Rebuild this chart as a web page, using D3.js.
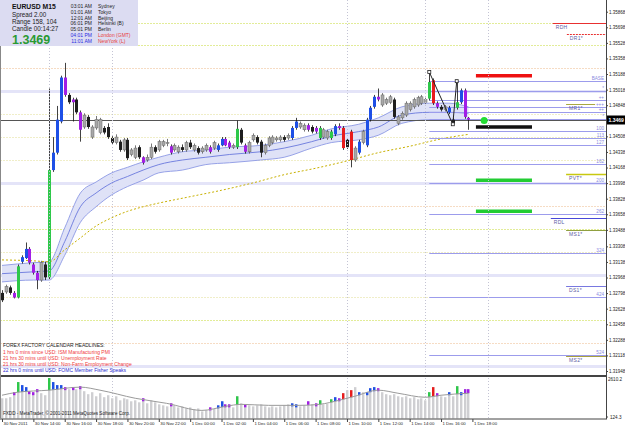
<!DOCTYPE html>
<html lang="en">
<head>
    <meta charset="UTF-8">
    <title>EURUSD M15</title>
    <script src="https://d3js.org/d3.v7.min.js"></script>
    <style>
        body {margin: 0; background: #fff;}
        svg {display: block; font-family: "Liberation Sans", Arial, sans-serif;}
    </style>
</head>
<body>
<script>
    const width = 625;
    const height = 429;

    // candles, 30 Nov 12:00 .. 1 Dec 17:45 (M15)
    const opens = [
        1.3280,1.3281,1.3286,1.3280,1.3275,1.3314,1.3318,1.3328,1.3311,1.3302,
        1.3294,1.3311,1.3297,1.3414,1.3433,1.3467,1.3515,1.3496,1.3491,1.3491,
        1.3477,1.3461,1.3472,1.3450,1.3460,1.3455,1.3460,1.3461,1.3449,1.3444,
        1.3445,1.3436,1.3447,1.3431,1.3428,1.3439,1.3428,1.3425,1.3428,1.3439,
        1.3436,1.3441,1.3443,1.3440,1.3436,1.3434,1.3439,1.3436,1.3444,1.3436,
        1.3438,1.3434,1.3436,1.3439,1.3438,1.3436,1.3441,1.3448,1.3444,1.3439,
        1.3439,1.3458,1.3441,1.3434,1.3447,1.3450,1.3445,1.3433,1.3441,1.3444,
        1.3447,1.3447,1.3450,1.3449,1.3449,1.3460,1.3461,1.3458,1.3463,1.3461,
        1.3460,1.3449,1.3450,1.3449,1.3449,1.3453,1.3462,1.3460,1.3447,1.3456,
        1.3425,1.3433,1.3444,1.3441,1.3469,1.3483,1.3494,1.3485,1.3487,1.3488,
        1.3491,1.3465,1.3471,1.3474,1.3480,1.3483,1.3485,1.3487,1.3488,1.3492,
        1.3512,1.3487,1.3483,1.3480,1.3477,1.3469,1.3482,1.3488,1.3501,1.3471];
    const highs = [
        1.3283,1.3289,1.3288,1.3282,1.3311,1.3321,1.3335,1.3330,1.3313,1.3304,
        1.3315,1.3314,1.3503,1.3450,1.3484,1.3517,1.3531,1.3498,1.3493,1.3493,
        1.3479,1.3476,1.3474,1.3463,1.3473,1.3471,1.3462,1.3465,1.3451,1.3453,
        1.3447,1.3449,1.3449,1.3438,1.3441,1.3441,1.3429,1.3431,1.3443,1.3441,
        1.3447,1.3447,1.3448,1.3442,1.3443,1.3441,1.3442,1.3446,1.3447,1.3443,
        1.3440,1.3440,1.3443,1.3441,1.3446,1.3443,1.3450,1.3450,1.3446,1.3443,
        1.3468,1.3460,1.3443,1.3446,1.3454,1.3452,1.3447,1.3443,1.3451,1.3452,
        1.3451,1.3452,1.3452,1.3454,1.3462,1.3471,1.3467,1.3465,1.3465,1.3463,
        1.3462,1.3462,1.3460,1.3458,1.3458,1.3464,1.3465,1.3462,1.3449,1.3458,
        1.3440,1.3447,1.3458,1.3471,1.3484,1.3496,1.3503,1.3498,1.3493,1.3496,
        1.3493,1.3474,1.3478,1.3489,1.3489,1.3493,1.3495,1.3496,1.3493,1.3521,
        1.3514,1.3489,1.3485,1.3485,1.3484,1.3471,1.3511,1.3503,1.3503,1.3472];
    const lows = [
        1.3270,1.3279,1.3278,1.3274,1.3274,1.3312,1.3317,1.3311,1.3300,1.3284,
        1.3292,1.3294,1.3295,1.3412,1.3431,1.3465,1.3494,1.3486,1.3467,1.3475,
        1.3445,1.3459,1.3459,1.3448,1.3458,1.3453,1.3453,1.3448,1.3442,1.3442,
        1.3434,1.3434,1.3425,1.3429,1.3426,1.3426,1.3420,1.3423,1.3426,1.3432,
        1.3434,1.3439,1.3440,1.3431,1.3434,1.3432,1.3434,1.3434,1.3437,1.3434,
        1.3431,1.3432,1.3434,1.3432,1.3436,1.3434,1.3440,1.3440,1.3437,1.3437,
        1.3437,1.3442,1.3432,1.3432,1.3445,1.3442,1.3428,1.3431,1.3439,1.3442,
        1.3445,1.3445,1.3445,1.3447,1.3447,1.3458,1.3459,1.3456,1.3456,1.3454,
        1.3454,1.3447,1.3448,1.3447,1.3447,1.3451,1.3458,1.3436,1.3437,1.3417,
        1.3423,1.3431,1.3442,1.3439,1.3467,1.3481,1.3489,1.3483,1.3485,1.3486,
        1.3470,1.3463,1.3469,1.3472,1.3478,1.3481,1.3483,1.3485,1.3486,1.3490,
        1.3485,1.3481,1.3478,1.3478,1.3475,1.3464,1.3480,1.3486,1.3470,1.3458];
    const closes = [
        1.3272,1.3287,1.3280,1.3275,1.3309,1.3319,1.3328,1.3313,1.3302,1.3294,
        1.3313,1.3297,1.3414,1.3433,1.3469,1.3515,1.3496,1.3488,1.3488,1.3477,
        1.3458,1.3474,1.3461,1.3461,1.3469,1.3469,1.3455,1.3450,1.3444,1.3450,
        1.3436,1.3447,1.3427,1.3436,1.3438,1.3428,1.3422,1.3428,1.3439,1.3434,
        1.3445,1.3445,1.3444,1.3433,1.3441,1.3439,1.3436,1.3444,1.3439,1.3441,
        1.3433,1.3438,1.3441,1.3434,1.3444,1.3441,1.3448,1.3441,1.3439,1.3441,
        1.3459,1.3444,1.3434,1.3444,1.3452,1.3444,1.3433,1.3441,1.3449,1.3450,
        1.3449,1.3450,1.3447,1.3452,1.3460,1.3467,1.3465,1.3463,1.3458,1.3456,
        1.3456,1.3460,1.3458,1.3456,1.3456,1.3462,1.3460,1.3438,1.3439,1.3425,
        1.3438,1.3445,1.3456,1.3469,1.3482,1.3494,1.3491,1.3496,1.3491,1.3494,
        1.3472,1.3472,1.3476,1.3487,1.3487,1.3491,1.3493,1.3494,1.3491,1.3510,
        1.3487,1.3483,1.3480,1.3483,1.3482,1.3465,1.3488,1.3501,1.3472,1.3469];
    // G big up, b up, g small up, r big down, m down, k small down
    const candleKinds = (
        "kgkmGbbmmm" + "gkGbbbmkmk" + "mgkgggkkkg" + "kgkggkmggk" +
        "gggmggkgkg" + "kggmgbbmmg" + "Gkmggkkggg" + "ggkgbbggmk" +
        "mGggGbmrkr" + "gbgbbbmggg" + "kggggggggG" + "rmkgbkGbmm").split("");

    const volumes = [
        1336,1336,1400,1700,2306,2124,2003,1760,1700,1880,
        1640,1518,2548,2306,2124,2124,2003,1880,2003,1880,
        2060,1760,1580,1700,1455,1640,1400,1518,1336,1455,
        1215,1336,1275,1155,1215,1094,1336,1033,1215,1094,
        973,912,851,1033,912,790,851,730,790,670,
        730,550,620,790,700,912,1155,973,973,790,
        1455,1033,973,912,851,912,973,851,790,851,
        790,851,912,973,1033,973,851,912,1155,973,
        1033,1215,973,1000,1275,1400,1336,1640,1821,1821,
        2003,1700,1700,1700,1940,2003,1940,1700,1580,1518,
        1580,1455,1400,1455,1336,1400,1275,1336,1215,1700,
        2003,1640,1455,1400,1700,1455,2060,1700,1880,1880];
    const volMaIdx = [0, 4, 12, 20, 25, 34, 42, 51, 57, 61, 68, 76, 81, 86, 90, 96, 101, 108, 112, 119];
    const volMa    = [1518, 1700, 1821, 2003, 1821, 1336, 1033, 609, 851, 973, 912, 912, 973, 1215, 1457, 1821, 1639, 1397, 1518, 1639];

    // moving average envelope and slow average
    const bandIdx   = [0, 8, 12, 16, 20, 24, 28, 32, 36, 40, 46, 52, 58, 66, 72, 79, 84, 91, 96, 102, 109, 114, 119];
    const bandUpper = [1.3310,1.3313,1.3314,1.3351,1.3389,1.3401,1.3411,1.3417,1.3423,1.3428,1.3434,1.3436,1.3439,1.3441,1.3445,1.3452,1.3459,1.3464,1.3471,1.3483,1.3487,1.3487,1.3483];
    const bandMid   = [1.3301,1.3303,1.3304,1.3336,1.3374,1.3389,1.3400,1.3407,1.3414,1.3420,1.3425,1.3428,1.3431,1.3434,1.3438,1.3445,1.3451,1.3456,1.3461,1.3474,1.3477,1.3477,1.3476];
    const bandLower = [1.3292,1.3294,1.3294,1.3321,1.3357,1.3374,1.3387,1.3396,1.3403,1.3411,1.3414,1.3420,1.3422,1.3425,1.3428,1.3438,1.3444,1.3447,1.3452,1.3465,1.3469,1.3469,1.3469];
    const slowIdx = [0, 8, 12, 16, 20, 24, 28, 32, 36, 40, 48, 56, 64, 72, 80, 88, 96, 104, 112, 119];
    const slowMa  = [1.3316,1.3315,1.3314,1.3327,1.3340,1.3353,1.3362,1.3369,1.3374,1.3378,1.3385,1.3392,1.3400,1.3409,1.3416,1.3424,1.3433,1.3440,1.3448,1.3453];

    // round levels every 25 pips
    const roundLevels = [1.3575,1.3550,1.3525,1.3500,1.3475,1.3450,1.3425,1.3400,1.3375,1.3350,1.3325,1.3300,1.3275,1.3250,1.3225,1.3200];
    const roundKinds  = ["h","h","p","w","q","q","q","w","p","h","q","w","q","h","p","w"];
    const sessionIdx  = [12, 28, 88, 108, 124];

    // projection lines from the last swing
    const fibLabels = ["BASE","*","++","+++","++","*","100","113","127","162","200","262","324","424","524"];
    const fibPrices = [1.3511,1.3500,1.3491,1.3483,1.3477,1.3470,1.3457,1.3449,1.3441,1.3421,1.3400,1.3366,1.3323,1.3275,1.3212];
    const fibFrom = 109;

    const pivotNames  = ["RDH","DR1*","MR1*","PVT*","RDL","MS1*","DS1*","MS2*"];
    const pivotPrices = [1.3575,1.3563,1.3486,1.3410,1.3362,1.3349,1.3288,1.3211];
    const pivotFrom   = [140.5,144.1,143.9,143.9,140,143.9,143.9,143.9];
    const pivotTo     = [154.1,154.1,151.3,154.1,154.1,154.1,154.1,154.1];
    const pivotColors = ["#e83030","#e83030","#a8a840","#c8c810","#4848d8","#90a040","#7878e0","#a8a040"];

    const targetPrices = [1.3517, 1.3461, 1.3403, 1.3369];
    const targetColors = ["#ee1111", "#111111", "#22cc33", "#22cc33"];
    const targetFrom = 120.9, targetTo = 135.2;
    const signalIdx = 123, signalPrice = 1.3468;

    const zigIdx = [109, 115, 116];
    const zigPrice = [1.3521, 1.3464, 1.3511];

    const lastPrice = 1.3469;

    // the tick under the price box is hidden in the reference
    const yTickValues = [1.35868,1.35698,1.35528,1.35358,1.35188,1.35018,1.34848,1.34508,1.34338,1.34168,1.33998,
        1.33828,1.33658,1.33488,1.33308,1.33138,1.32968,1.32798,1.32628,1.32458,1.32288,1.32118,1.31948];
    const timeIdx = [0, 8, 16, 24, 32, 40, 48, 56, 64, 72, 80, 88, 96, 104, 112, 120];
    const timeLabels = ["30 Nov 2011","30 Nov 14:00","30 Nov 16:00","30 Nov 18:00","30 Nov 20:00","30 Nov 22:00",
        "1 Dec 00:00","1 Dec 02:00","1 Dec 04:00","1 Dec 06:00","1 Dec 08:00","1 Dec 10:00",
        "1 Dec 12:00","1 Dec 14:00","1 Dec 16:00","1 Dec 18:00"];
    const volMaxLabel = "2610.2", volMinLabel = "124.3";

    const infoLeft = ["Spread  2.00", "Range  158, 104", "Candle  00:14:27"];
    const clockTimes  = ["03:01 AM","01:01 AM","12:01 AM","06:01 PM","05:01 PM","04:01 PM","11:01 AM"];
    const clockCities = ["Sydney","Tokyo","Beijing","Helsinki (B)","Berlin","London (GMT)","NewYork (L)"];
    const news = ["1 hrs 0 mins since USD: ISM Manufacturing PMI",
        "21 hrs 30 mins until USD: Unemployment Rate",
        "21 hrs 30 mins until USD: Non-Farm Employment Change",
        "22 hrs 0 mins until USD: FOMC Member Fisher Speaks"];
    const newsColors = ["#f03c3c","#f03c3c","#f03c3c","#2c2cd0"];

    const kindColor = {G: "#2ec84a", b: "#1e50e6", g: "#a8a8a8", r: "#e81c1c", m: "#a21ee6", k: "#1e1e1e"};
    const roundStyle = {
        w: {c: "#e4e4f8", w: 3, d: null},
        h: {c: "#e2ec98", w: 1, d: "2,1"},
        q: {c: "#f0eec8", w: 1, d: "2,1"},
        p: {c: "#f6dcc4", w: 1, d: "2,1"}
    };

    const plotRight = 606;
    const mainBottom = 375;
    const volTop = 377, volBottom = 418.5;

    const svg = d3.select("body").append("svg")
            .attr("width", width).attr("height", height);

    const x = d3.scaleLinear().domain([0, 120]).range([2, 472.4]);
    const y = d3.scaleLinear().domain([1.31948, 1.35868]).range([371, 11.7]);
    const yVol = d3.scaleLinear().domain([124.3, 2610.2]).range([volBottom, volTop]);
    const maAt = d3.scaleLinear().domain(volMaIdx).range(volMa);

    svg.append("defs").append("clipPath").attr("id", "mainClip")
            .append("rect").attr("width", plotRight).attr("height", mainBottom);

    const main = svg.append("g").attr("clip-path", "url(#mainClip)");

    drawGrid();
    drawBand();
    drawLevels();
    drawCandles();
    drawOverlay();
    drawVolume();
    drawFrame();
    drawAxes();
    drawInfo();

    function drawGrid() {
        main.selectAll("line.round")
                .data(roundLevels)
                .join("line").attr("class", "round")
                .attr("x1", 0).attr("x2", plotRight)
                .attr("y1", d => Math.round(y(d)) + 0.5).attr("y2", d => Math.round(y(d)) + 0.5)
                .style("stroke", (d, i) => roundStyle[roundKinds[i]].c)
                .style("stroke-width", (d, i) => roundStyle[roundKinds[i]].w)
                .style("stroke-dasharray", (d, i) => roundStyle[roundKinds[i]].d);

        svg.selectAll("line.session")
                .data(sessionIdx)
                .join("line").attr("class", "session")
                .attr("x1", d => Math.round(x(d)) + 0.5).attr("x2", d => Math.round(x(d)) + 0.5)
                .attr("y1", 0).attr("y2", volBottom)
                .style("stroke", "#c4c4d4")
                .style("stroke-dasharray", "1,2");
    }

    function drawBand() {
        const pts = bandIdx.map((d, i) => ({i: d, up: bandUpper[i], mid: bandMid[i], lo: bandLower[i]}));
        const area = d3.area().curve(d3.curveMonotoneX)
                .x(d => x(d.i)).y0(d => y(d.lo)).y1(d => y(d.up));
        main.append("path").datum(pts).attr("d", area)
                .style("fill", "#dfe2f7");
        ["up", "mid", "lo"].forEach(k => {
            main.append("path").datum(pts)
                    .attr("d", d3.line().curve(d3.curveMonotoneX).x(d => x(d.i)).y(d => y(d[k])))
                    .style("fill", "none")
                    .style("stroke", k === "mid" ? "#6a78dc" : "#8c98e4")
                    .style("stroke-width", 0.9);
        });

        const slow = slowIdx.map((d, i) => ({i: d, v: slowMa[i]}));
        main.append("path").datum(slow)
                .attr("d", d3.line().curve(d3.curveMonotoneX).x(d => x(d.i)).y(d => y(d.v)))
                .style("fill", "none")
                .style("stroke", "#c8b000")
                .style("stroke-width", 1)
                .style("stroke-dasharray", "2,2");
    }

    function drawLevels() {
        // current price line
        main.append("line")
                .attr("x1", 0).attr("x2", plotRight)
                .attr("y1", Math.round(y(lastPrice)) + 0.5).attr("y2", Math.round(y(lastPrice)) + 0.5)
                .style("stroke", "#555");

        const fib = main.selectAll("g.fib")
                .data(fibPrices)
                .join("g").attr("class", "fib");
        fib.append("line")
                .attr("x1", x(fibFrom)).attr("x2", plotRight)
                .attr("y1", d => Math.round(y(d)) + 0.5).attr("y2", d => Math.round(y(d)) + 0.5)
                .style("stroke", "#9c9cec");
        fib.append("text")
                .attr("x", plotRight - 2).attr("y", d => Math.round(y(d)) - 1)
                .attr("text-anchor", "end")
                .style("font-size", "4.6px").style("fill", "#8a8ae0")
                .text((d, i) => fibLabels[i]);

        const piv = main.selectAll("g.pivot")
                .data(pivotPrices)
                .join("g").attr("class", "pivot");
        piv.append("line")
                .attr("x1", (d, i) => x(pivotFrom[i])).attr("x2", (d, i) => x(pivotTo[i]))
                .attr("y1", d => Math.round(y(d)) + 0.5).attr("y2", d => Math.round(y(d)) + 0.5)
                .style("stroke", (d, i) => pivotColors[i])
                .style("stroke-width", (d, i) => pivotNames[i] === "PVT*" ? 1.6 : 1)
                .style("stroke-dasharray", (d, i) => pivotNames[i] === "DR1*" ? "2,1" : null);
        piv.append("text")
                .attr("x", (d, i) => x(pivotFrom[i]) + 3).attr("y", d => Math.round(y(d)) + 6)
                .style("font-size", "5px").style("fill", "#5c5ca4")
                .style("letter-spacing", "0.3px")
                .text((d, i) => pivotNames[i]);
    }

    function drawCandles() {
        const candles = opens.map((o, i) => ({i: i, o: o, h: highs[i], l: lows[i], c: closes[i], k: candleKinds[i]}));
        const g = main.append("g").attr("class", "candles");

        g.selectAll("line")
                .data(candles)
                .join("line")
                .attr("x1", d => Math.round(x(d.i)) + 0.5).attr("x2", d => Math.round(x(d.i)) + 0.5)
                .attr("y1", d => y(d.h)).attr("y2", d => y(d.l))
                .style("stroke", d => d.k === "g" ? "#555" : "#111")
                .style("stroke-width", 0.8);

        g.selectAll("rect")
                .data(candles)
                .join("rect")
                .attr("x", d => Math.round(x(d.i)) - 1)
                .attr("width", 3)
                .attr("y", d => y(Math.max(d.o, d.c)))
                .attr("height", d => Math.max(1, Math.abs(y(d.o) - y(d.c))))
                .style("fill", d => kindColor[d.k])
                .style("stroke", d => d.k === "g" ? "#6a6a6a" : "none")
                .style("stroke-width", 0.5);
    }

    function drawOverlay() {
        const zz = zigIdx.map((d, i) => [x(d), y(zigPrice[i])]);
        main.append("path").datum(zz)
                .attr("d", d3.line())
                .style("fill", "none").style("stroke", "#222").style("stroke-width", 1);
        main.selectAll("rect.zz")
                .data(zz)
                .join("rect").attr("class", "zz")
                .attr("x", d => d[0] - 1.5).attr("y", d => d[1] - 1.5)
                .attr("width", 3).attr("height", 3)
                .style("fill", "#fff").style("stroke", "#222").style("stroke-width", 0.8);

        main.selectAll("line.target")
                .data(targetPrices)
                .join("line").attr("class", "target")
                .attr("x1", x(targetFrom)).attr("x2", x(targetTo))
                .attr("y1", d => y(d)).attr("y2", d => y(d))
                .style("stroke", (d, i) => targetColors[i])
                .style("stroke-width", 3.5);

        main.append("circle")
                .attr("cx", x(signalIdx)).attr("cy", y(signalPrice)).attr("r", 3.5)
                .style("fill", "#22dd33");
    }

    function drawVolume() {
        const g = svg.append("g").attr("class", "volume");
        const bars = volumes.map((v, i) => ({i: i, v: v, ma: maAt(i), k: candleKinds[i]}));
        g.selectAll("rect.vbar")
                .data(bars)
                .join("rect").attr("class", "vbar")
                .attr("x", d => Math.round(x(d.i)) - 1).attr("width", 2.4)
                .attr("y", d => yVol(d.v)).attr("height", d => volBottom - yVol(d.v))
                .style("fill", "#cfcfd2");
        g.selectAll("rect.vtop")
                .data(bars.filter(d => "Gbrm".includes(d.k)))
                .join("rect").attr("class", "vtop")
                .attr("x", d => Math.round(x(d.i)) - 1).attr("width", 2.4)
                .attr("y", d => yVol(d.v))
                .attr("height", d => Math.max(3, yVol(d.ma) - yVol(d.v)))
                .style("fill", d => kindColor[d.k]);
        g.append("path").datum(volMaIdx.map((d, i) => [x(d), yVol(volMa[i])]))
                .attr("d", d3.line().curve(d3.curveMonotoneX))
                .style("fill", "none").style("stroke", "#9a9a9a").style("stroke-width", 1);

        g.append("text").attr("x", 3).attr("y", 415)
                .style("font-size", "4.6px").style("fill", "#222")
                .text("FXDD - MetaTrader, \u00a9 2001-2011 MetaQuotes Software Corp.");
    }

    function drawFrame() {
        const f = svg.append("g").style("stroke", "#444").style("fill", "none");
        f.append("line").attr("x1", plotRight + 0.5).attr("x2", plotRight + 0.5).attr("y1", 0).attr("y2", volBottom + 1);
        f.append("line").attr("x1", 0).attr("x2", plotRight).attr("y1", mainBottom + 0.5).attr("y2", mainBottom + 0.5);
        f.append("line").attr("x1", 0).attr("x2", plotRight).attr("y1", volTop - 0.5).attr("y2", volTop - 0.5);
        f.append("line").attr("x1", 0).attr("x2", plotRight).attr("y1", volBottom + 0.5).attr("y2", volBottom + 0.5);
        f.append("line").attr("x1", 0.5).attr("x2", 0.5).attr("y1", 0).attr("y2", volBottom).style("stroke", "#888");
    }

    function drawAxes() {
        const ya = svg.append("g").attr("transform", `translate(${plotRight},0)`)
                .call(d3.axisRight(y).tickValues(yTickValues).tickSize(2).tickFormat(d3.format(".5f")));
        ya.select(".domain").remove();
        ya.selectAll("text").style("font-size", "4.5px").style("fill", "#222").attr("x", 3);
        ya.selectAll("line").style("stroke", "#444");

        const yp = Math.round(y(lastPrice));
        svg.append("rect").attr("x", plotRight + 1).attr("y", yp - 4.5)
                .attr("width", width - plotRight - 1).attr("height", 9).style("fill", "#000");
        svg.append("text").attr("x", plotRight + 2.5).attr("y", yp + 2)
                .style("font-size", "5px").style("font-weight", "bold").style("fill", "#fff")
                .text(lastPrice.toFixed(4));

        svg.append("text").attr("x", plotRight + 2).attr("y", volTop + 4)
                .style("font-size", "4.6px").style("fill", "#222").text(volMaxLabel);
        svg.append("text").attr("x", plotRight + 4).attr("y", volBottom)
                .style("font-size", "4.6px").style("fill", "#222").text(volMinLabel);
        svg.append("line").attr("x1", plotRight).attr("x2", plotRight + 2)
                .attr("y1", volBottom - 1.5).attr("y2", volBottom - 1.5).style("stroke", "#444");

        const xa = svg.append("g").attr("transform", `translate(0,${volBottom + 0.5})`)
                .call(d3.axisBottom(x).tickValues(timeIdx).tickSize(3).tickFormat((d, i) => timeLabels[i]));
        xa.select(".domain").remove();
        xa.selectAll("line").style("stroke", "#444");
        xa.selectAll("text").attr("text-anchor", "start").attr("x", 1).attr("y", 3)
                .style("font-size", "4.3px").style("fill", "#222");
    }

    function drawInfo() {
        const g = svg.append("g");
        g.append("rect").attr("width", 138).attr("height", 46).style("fill", "#dcdcf2");
        g.append("text").attr("x", 12).attr("y", 8.5)
                .style("font-size", "6.8px").style("font-weight", "bold").style("fill", "#111")
                .text("EURUSD   M15");
        g.selectAll("text.info")
                .data(infoLeft)
                .join("text").attr("class", "info")
                .attr("x", 12).attr("y", (d, i) => 16.6 + i * 7.2)
                .style("font-size", "6.3px").style("fill", "#222")
                .text(d => d);
        g.append("text").attr("x", 12).attr("y", 44)
                .style("font-size", "12.5px").style("font-weight", "bold").style("fill", "#2a9a32")
                .text(lastPrice.toFixed(4));

        g.selectAll("text.clock")
                .data(clockTimes)
                .join("text").attr("class", "clock")
                .attr("x", 92).attr("y", (d, i) => 7.8 + i * 5.85)
                .attr("text-anchor", "end")
                .style("font-size", "5px")
                .style("fill", (d, i) => i >= 5 ? "#2c2ce0" : "#222")
                .text(d => d);
        g.selectAll("text.city")
                .data(clockCities)
                .join("text").attr("class", "city")
                .attr("x", 98).attr("y", (d, i) => 7.8 + i * 5.85)
                .style("font-size", "5px")
                .style("fill", (d, i) => i >= 5 ? "#e83c3c" : "#222")
                .text(d => d);

        svg.append("text").attr("x", 3).attr("y", 346.5)
                .style("font-size", "5px").style("fill", "#222")
                .text("FOREX FACTORY CALENDAR HEADLINES:");
        svg.selectAll("text.news")
                .data(news)
                .join("text").attr("class", "news")
                .attr("x", 3).attr("y", (d, i) => 354 + i * 6)
                .style("font-size", "5px")
                .style("fill", (d, i) => newsColors[i])
                .text(d => d);
    }
</script>
</body>
</html>
